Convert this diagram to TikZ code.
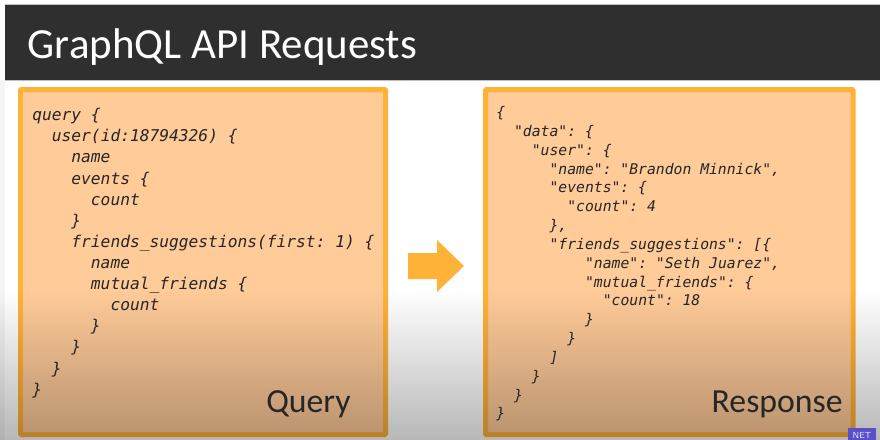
\documentclass[tikz,border=0pt]{standalone}
\usepackage{fontspec}
\setmainfont{Carlito}
\setmonofont{DejaVu Sans Mono}
\usetikzlibrary{fadings}

\definecolor{barblack}{HTML}{2F2F2F}
\definecolor{panelorange}{HTML}{FFB238}
\definecolor{panelfill}{HTML}{FFCB99}
\definecolor{inkdark}{HTML}{262626}
\definecolor{badgeblue}{HTML}{5B4FC9}

\tikzfading[name=darkendown, top color=transparent!100, bottom color=transparent!72]

\tikzset{
  panel/.style={draw=panelorange, fill=panelfill, line width=0.1cm, rounded corners=0.5pt},
  codetext/.style={anchor=north west, align=left, inner sep=0pt, text=inkdark},
  paneltitle/.style={anchor=base east, inner sep=0pt, text=inkdark, font=\fontsize{19.2}{24}\selectfont},
}
\newcommand{\qind}[1]{\hspace*{#1\dimexpr 5.56pt\relax}}
\newcommand{\rind}[1]{\hspace*{#1\dimexpr 5.05pt\relax}}

\begin{document}
\begin{tikzpicture}[x=0.02cm,y=-0.02cm]
\useasboundingbox (0,0) rectangle (880,440);

\fill[white] (0,0) rectangle (880,440);
\fill[black!4] (0,80) rectangle (5,440);

% title bar
\fill[barblack] (5,4) rectangle (880,80);
\draw[black!25, line width=0.4pt] (5,4) -- (880,4);
\draw[black!25, line width=0.4pt] (5,80) -- (880,80);
\node (title) [anchor=base west, inner sep=0pt, text=white, font=\fontsize{24.45}{28}\selectfont] at (27.5,58) {GraphQL API Requests};

% the two panels
\draw[panel] (20.5,89.5) rectangle (385.5,434.5);
\draw[panel] (485.5,89.5) rectangle (853,434.5);

% arrow
\fill[panelorange] (408,253) -- (437,253) -- (437,240) -- (464,266) -- (437,292) -- (437,279) -- (408,279) -- cycle;

\fill[black, path fading=darkendown, fit fading=true] (0,290) rectangle (880,440);

\node (querycode) [codetext, font=\fontsize{9.24}{12.02}\selectfont\ttfamily\itshape] at (32,108) {query \{\\
\qind{2}user(id:18794326) \{\\
\qind{4}name\\
\qind{4}events \{\\
\qind{6}count\\
\qind{4}\}\\
\qind{4}friends\_suggestions(first: 1) \{\\
\qind{6}name\\
\qind{6}mutual\_friends \{\\
\qind{8}count\\
\qind{6}\}\\
\qind{4}\}\\
\qind{2}\}\\
\}};

\node (responsecode) [codetext, font=\fontsize{8.38}{10.72}\selectfont\ttfamily\itshape] at (496,106) {\{\\
\rind{2}"data": \{\\
\rind{4}"user": \{\\
\rind{6}"name": "Brandon Minnick",\\
\rind{6}"events": \{\\
\rind{8}"count": 4\\
\rind{6}\},\\
\rind{6}"friends\_suggestions": [\{\\
\rind{10}"name": "Seth Juarez",\\
\rind{10}"mutual\_friends": \{\\
\rind{12}"count": 18\\
\rind{10}\}\\
\rind{8}\}\\
\rind{6}]\\
\rind{4}\}\\
\rind{2}\}\\
\}};

\node (querytitle) [paneltitle] at (351,412) {Query};
\node (responsetitle) [paneltitle] at (843,412) {Response};

% badge in the corner
\fill[badgeblue] (848,428) rectangle (876,440);
\node (badge) [text=white!85!badgeblue, inner sep=0pt, font=\fontsize{5}{6}\selectfont\sffamily] at (862,435.5) {NET};

\end{tikzpicture}
\end{document}
